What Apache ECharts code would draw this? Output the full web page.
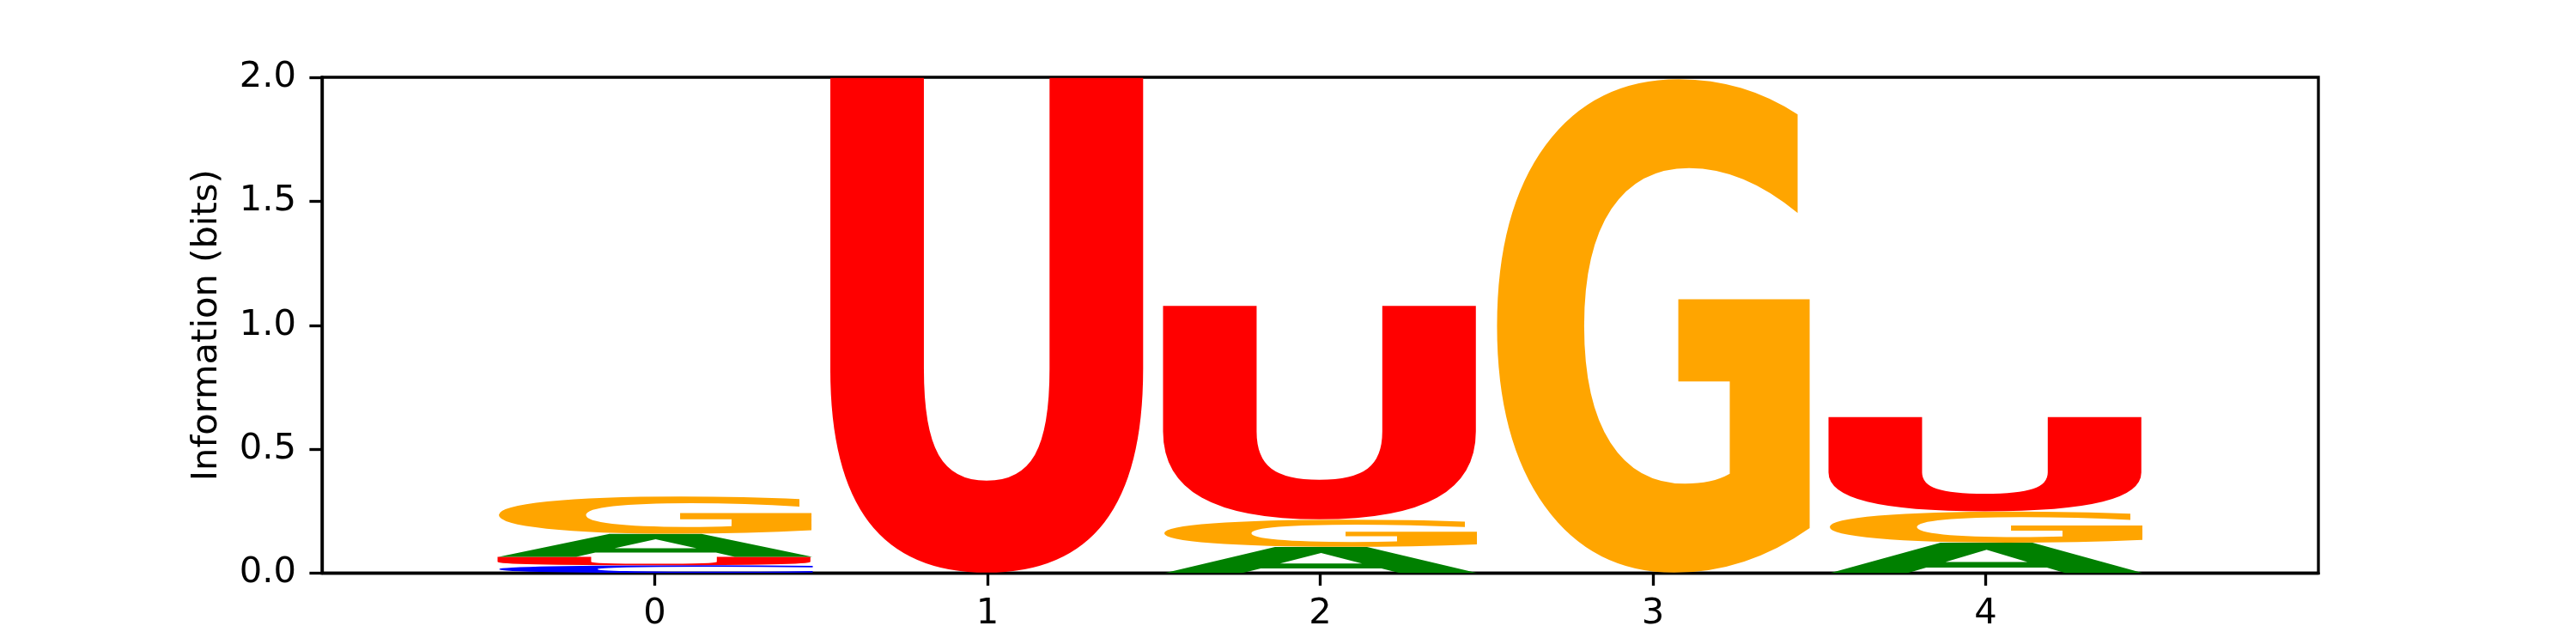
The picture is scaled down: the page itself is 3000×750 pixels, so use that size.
<!DOCTYPE html>
<html>
<head>
<meta charset="utf-8">
<script src="https://cdn.jsdelivr.net/npm/echarts@6/dist/echarts.min.js"></script>
<style>
  html, body { margin: 0; padding: 0; background: #fff; }
  #chart { width: 3000px; height: 750px; }
</style>
</head>
<body>
<div id="chart"></div>
<script>
// ---- data (information in bits per letter, per position) ----
const positions = [0, 1, 2, 3, 4];
const letters = ['A', 'C', 'G', 'U'];
const valuesA = [0.093, 0.0, 0.106, 0.0, 0.123];
const valuesC = [0.032, 0.0, 0.0, 0.0, 0.0];
const valuesG = [0.151, 0.0, 0.110, 2.0, 0.126];
const valuesU = [0.034, 2.0, 0.863, 0.0, 0.381];
const yTicks = [0.0, 0.5, 1.0, 1.5, 2.0];
const xTicks = [0, 1, 2, 3, 4];

// ---- styles ----
const letterColors = { A: '#008000', C: '#0000ff', G: '#ffa500', U: '#ff0000' };
const GLYPH_WIDTH = 0.95;
const GLYPH_FONT = 'bold 200px "DejaVu Sans"';
const FS = 41.67;
const LW = 3.33;

const valuesByLetter = { A: valuesA, C: valuesC, G: valuesG, U: valuesU };

// build stacked glyph items: smallest at bottom
const glyphData = [];
positions.forEach((p, i) => {
  const items = letters.map(l => ({ l, v: valuesByLetter[l][i] })).filter(d => d.v > 0);
  items.sort((a, b) => a.v - b.v);
  let floor = 0;
  items.forEach(d => {
    glyphData.push([p, floor, floor + d.v, letters.indexOf(d.l)]);
    floor += d.v;
  });
});

// measure glyph ink boxes
const mctx = document.createElement('canvas').getContext('2d');
mctx.font = GLYPH_FONT;
mctx.textBaseline = 'middle';
mctx.textAlign = 'left';
const metrics = {};
letters.forEach(l => {
  const m = mctx.measureText(l);
  metrics[l] = {
    L: m.actualBoundingBoxLeft, R: m.actualBoundingBoxRight,
    A: m.actualBoundingBoxAscent, D: m.actualBoundingBoxDescent
  };
});

function renderGlyph(params, api) {
  const p = api.value(0), lo = api.value(1), hi = api.value(2);
  const l = letters[api.value(3)];
  const tl = api.coord([p - GLYPH_WIDTH / 2, hi]);
  const br = api.coord([p + GLYPH_WIDTH / 2, lo]);
  const m = metrics[l];
  const sx = (br[0] - tl[0]) / (m.L + m.R);
  const sy = (br[1] - tl[1]) / (m.A + m.D);
  return {
    type: 'text',
    x: tl[0] + m.L * sx,
    y: tl[1] + m.A * sy,
    scaleX: sx,
    scaleY: sy,
    style: {
      text: l, x: 0, y: 0,
      font: GLYPH_FONT,
      fill: letterColors[l],
      align: 'left', verticalAlign: 'middle',
      textAlign: 'left', textVerticalAlign: 'middle'
    }
  };
}

const chart = echarts.init(document.getElementById('chart'), null, { renderer: 'canvas' });
chart.setOption({
  animation: false,
  backgroundColor: '#ffffff',
  grid: {
    left: 375, right: 300, top: 90, bottom: 82.5,
    show: true, borderColor: '#000', borderWidth: LW, backgroundColor: 'transparent'
  },
  xAxis: {
    type: 'value', min: -1, max: 5, interval: 1,
    axisLine: { show: true, onZero: false, lineStyle: { color: '#000', width: LW } },
    axisTick: { show: true, inside: false, length: 14.6, lineStyle: { color: '#000', width: LW }, customValues: xTicks },
    axisLabel: { show: true, margin: 27, color: '#000', fontSize: FS, fontFamily: 'DejaVu Sans', customValues: xTicks },
    splitLine: { show: false }
  },
  yAxis: {
    type: 'value', min: 0, max: 2, interval: 0.5,
    name: 'Information (bits)', nameLocation: 'middle', nameGap: 113,
    nameTextStyle: { color: '#000', fontSize: FS, fontFamily: 'DejaVu Sans' },
    axisLine: { show: true, onZero: false, lineStyle: { color: '#000', width: LW } },
    axisTick: { show: true, inside: false, length: 14.6, lineStyle: { color: '#000', width: LW }, customValues: yTicks },
    axisLabel: { show: true, margin: 30, color: '#000', fontSize: FS, fontFamily: 'DejaVu Sans',
                 customValues: yTicks, formatter: v => Number(v).toFixed(1) },
    splitLine: { show: false }
  },
  series: [{
    type: 'custom',
    renderItem: renderGlyph,
    data: glyphData,
    clip: true,
    encode: { x: 0, y: [1, 2] },
    z: 1
  }]
});
</script>
</body>
</html>
